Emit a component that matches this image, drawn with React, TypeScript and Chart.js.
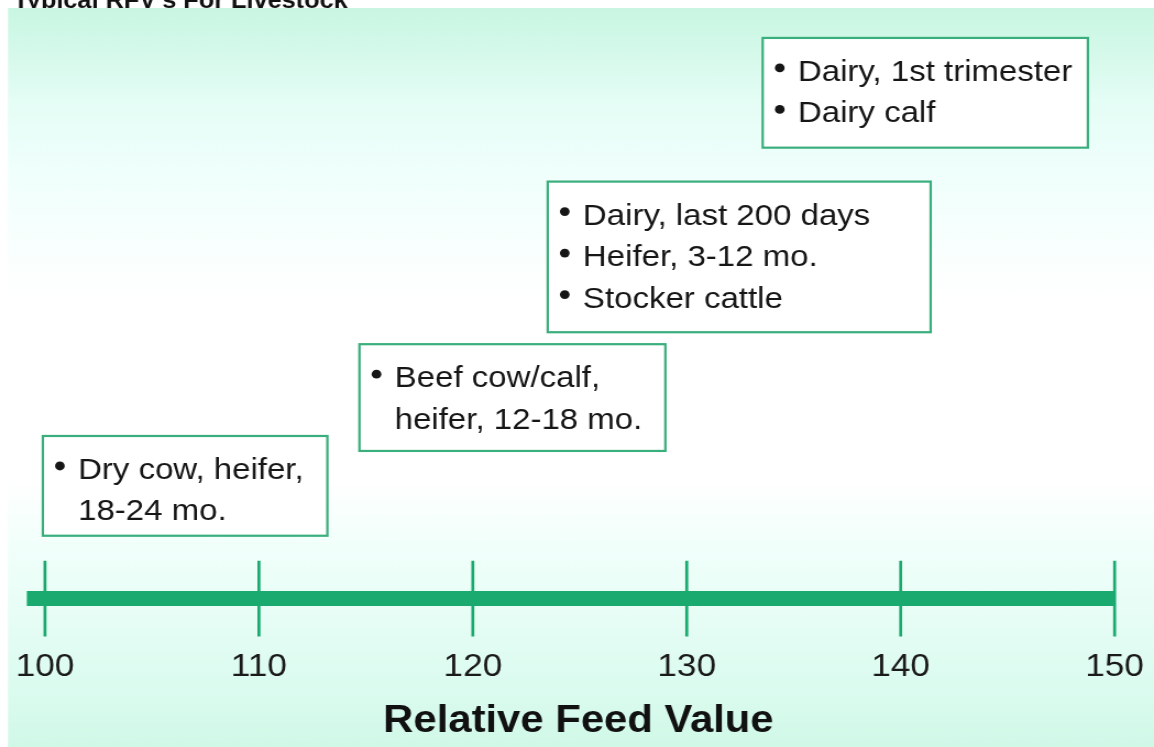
import { useEffect, useRef } from "react";
import { Chart, registerables } from "chart.js";

Chart.register(...registerables);

// ---- data ----
const TITLE = "Typical RFV's For Livestock";
const AXIS_TITLE = "Relative Feed Value";
const TICKS = [100, 110, 120, 130, 140, 150];
const AXIS_START = 99.15;
const AXIS_END = 150;
const BOX_X_FROM = [99.9, 114.7, 123.5, 133.55];
const BOX_X_TO = [113.2, 129.0, 141.4, 148.75];
const BOX_Y_FROM = [1.575, 3.7, 6.675, 11.3];
const BOX_Y_TO = [4.075, 6.375, 10.45, 14.05];
const BOX_ITEMS: string[][][] = [
  [["Dry cow, heifer,", "18-24 mo."]],
  [["Beef cow/calf,", "heifer, 12-18 mo."]],
  [["Dairy, last 200 days"], ["Heifer, 3-12 mo."], ["Stocker cattle"]],
  [["Dairy, 1st trimester"], ["Dairy calf"]],
];

// ---- scale ranges ----
const X_MIN = 98.257;
const X_MAX = 151.614;
const Y_MIN = -1;
const Y_MAX = 14.8;
const TICK_HALF = 0.95;

// ---- style ----
const PAGE_W = 1154;
const PAGE_H = 747;
const SX = 1.1; // horizontal stretch of the original scan
const CW = Math.round(PAGE_W / SX);
const FONT = '"Liberation Sans", Arial, Helvetica, sans-serif';
const GREEN = "#1aa96f";
const BOX_GREEN = "#3aae7c";

const backgroundPlugin = {
  id: "bg",
  beforeDraw(chart: any) {
    const { ctx, width, height } = chart;
    ctx.save();
    ctx.fillStyle = "#ffffff";
    ctx.fillRect(0, 0, width, height);
    ctx.fillStyle = "#111111";
    ctx.font = `bold 23px ${FONT}`;
    ctx.textBaseline = "alphabetic";
    ctx.textAlign = "left";
    ctx.fillText(TITLE, 12, 8);
    const top = 8;
    const g = ctx.createLinearGradient(0, top, 0, height);
    const stops: [number, string][] = [
      [8, "#c9f6e3"],
      [50, "#d4f9ea"],
      [100, "#e4fdf5"],
      [160, "#eefffb"],
      [250, "#f9fffe"],
      [300, "#ffffff"],
      [480, "#ffffff"],
      [545, "#f1fffb"],
      [620, "#e6fdf5"],
      [700, "#d9fbee"],
      [747, "#d0f8e7"],
    ];
    stops.forEach(([y, c]) => g.addColorStop((y - top) / (height - top), c));
    ctx.fillStyle = g;
    ctx.fillRect(8 / SX, top, width, height - top);
    ctx.restore();
  },
};

const boxPlugin = {
  id: "boxes",
  afterDatasetsDraw(chart: any) {
    const { ctx } = chart;
    const xs = chart.scales.x;
    const ys = chart.scales.y;
    ctx.save();
    BOX_ITEMS.forEach((items, i) => {
      const x0 = xs.getPixelForValue(BOX_X_FROM[i]);
      const x1 = xs.getPixelForValue(BOX_X_TO[i]);
      const y0 = ys.getPixelForValue(BOX_Y_TO[i]);
      const y1 = ys.getPixelForValue(BOX_Y_FROM[i]);
      ctx.fillStyle = "#ffffff";
      ctx.fillRect(x0, y0, x1 - x0, y1 - y0);
      ctx.strokeStyle = BOX_GREEN;
      ctx.lineWidth = 2.2;
      ctx.strokeRect(x0, y0, x1 - x0, y1 - y0);
      ctx.fillStyle = "#161616";
      ctx.font = `30px ${FONT}`;
      ctx.textAlign = "left";
      ctx.textBaseline = "alphabetic";
      let base = y0 + 43;
      items.forEach((lines) => {
        ctx.beginPath();
        ctx.arc(x0 + 15.5, base - 13, 4.4, 0, Math.PI * 2);
        ctx.fill();
        lines.forEach((line) => {
          ctx.fillText(line, x0 + 32, base);
          base += 41.5;
        });
      });
    });
    ctx.restore();
  },
};

export default function App() {
  const ref = useRef<HTMLCanvasElement | null>(null);

  useEffect(() => {
    if (!ref.current) return;
    const datasets: any[] = [
      {
        label: "axis",
        data: [
          { x: AXIS_START, y: 0 },
          { x: AXIS_END, y: 0 },
        ],
        showLine: true,
        borderColor: GREEN,
        borderWidth: 15,
        borderCapStyle: "butt",
        pointRadius: 0,
      },
      ...TICKS.map((v) => ({
        label: "tick " + v,
        data: [
          { x: v, y: -TICK_HALF },
          { x: v, y: TICK_HALF },
        ],
        showLine: true,
        borderColor: GREEN,
        borderWidth: 2.7,
        pointRadius: 0,
      })),
    ];
    const chart = new Chart(ref.current, {
      type: "scatter",
      data: { datasets },
      plugins: [backgroundPlugin, boxPlugin],
      options: {
        responsive: false,
        animation: false,
        devicePixelRatio: 1,
        events: [],
        layout: { padding: { left: 7, right: 4, top: 8, bottom: 3 } },
        plugins: {
          legend: { display: false },
          tooltip: { enabled: false },
          title: { display: false },
        },
        scales: {
          x: {
            type: "linear",
            min: X_MIN,
            max: X_MAX,
            grid: { display: false, drawTicks: false },
            border: { display: false },
            afterBuildTicks: (scale: any) => {
              scale.ticks = TICKS.map((v) => ({ value: v }));
            },
            ticks: {
              padding: 9,
              autoSkip: false,
              maxRotation: 0,
              color: "#1a1a1a",
              font: { family: FONT, size: 32 },
            },
            title: {
              display: true,
              text: AXIS_TITLE,
              color: "#111111",
              font: { family: FONT, size: 38, weight: "bold" },
              padding: { top: 3.5, bottom: 0 },
            },
          },
          y: { type: "linear", display: false, min: Y_MIN, max: Y_MAX },
        },
      } as any,
    });
    return () => chart.destroy();
  }, []);

  return (
    <div
      style={{
        position: "fixed",
        left: 0,
        top: 0,
        width: PAGE_W,
        height: PAGE_H,
        background: "#ffffff",
        overflow: "hidden",
      }}
    >
      <canvas
        ref={ref}
        width={CW}
        height={PAGE_H}
        style={{ width: PAGE_W + "px", height: PAGE_H + "px", display: "block" }}
      />
    </div>
  );
}
